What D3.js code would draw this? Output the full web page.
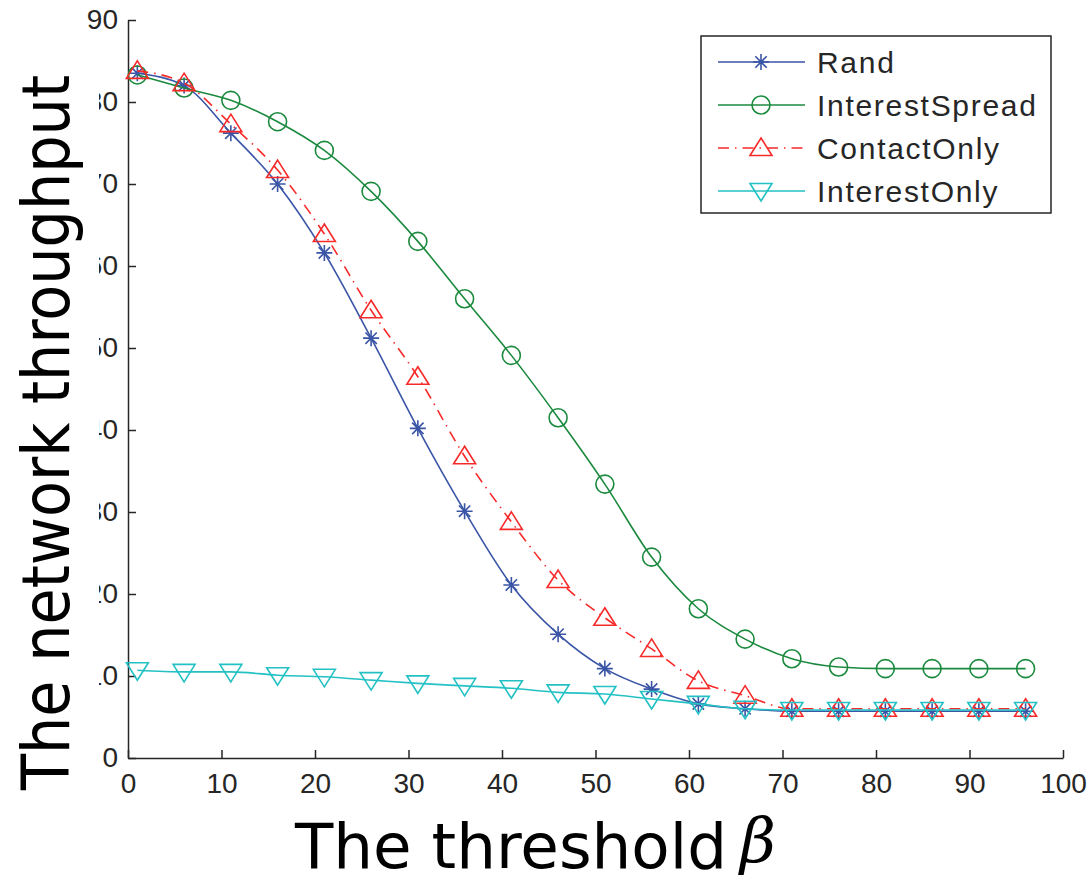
<!DOCTYPE html>
<html lang="en">
<head>
<meta charset="utf-8">
<title>Network throughput vs threshold</title>
<script src="https://d3js.org/d3.v7.min.js"></script>
<style>
  body { margin: 0; background: #fff; }
  .tick text { font-family: "Liberation Sans", Arial, sans-serif; font-size: 28px; fill: #262626; }
  .ttl { font-family: "Comic Sans MS", "DejaVu Sans", sans-serif; fill: #000; }
  .leg { font-family: "Liberation Sans", Arial, sans-serif; font-size: 30px; fill: #262626; letter-spacing: 1.7px; }
</style>
</head>
<body>
<script>
// data
const beta = [1, 6, 11, 16, 21, 26, 31, 36, 41, 46, 51, 56, 61, 66, 71, 76, 81, 86, 91, 96];
const rand = [83.5, 82, 76.2, 70, 61.6, 51.2, 40.2, 30.1, 21.1, 15.1, 10.9, 8.4, 6.6, 6.0, 5.7, 5.7, 5.7, 5.7, 5.7, 5.7];
const interestSpread = [83.3, 81.7, 80.2, 77.6, 74.1, 69.1, 63, 56, 49.1, 41.5, 33.4, 24.5, 18.2, 14.5, 12.1, 11.1, 10.9, 10.9, 10.9, 10.9];
const contactOnly = [83.8, 82.3, 77.3, 71.7, 63.9, 54.6, 46.5, 36.8, 28.8, 21.7, 17.1, 13.3, 9.4, 7.6, 6.0, 6.0, 6.0, 6.0, 6.0, 6.0];
const interestOnly = [10.7, 10.5, 10.5, 10.1, 9.9, 9.5, 9.1, 8.8, 8.5, 8.0, 7.8, 7.2, 6.6, 6.0, 5.85, 5.85, 5.85, 5.85, 5.85, 5.85];
const seriesNames = ["Rand", "InterestSpread", "ContactOnly", "InterestOnly"];
const xTicks = [0, 10, 20, 30, 40, 50, 60, 70, 80, 90, 100];
const yTicks = [0, 10, 20, 30, 40, 50, 60, 70, 80, 90];

const width = 1092, height = 883;
const svg = d3.select("body").append("svg")
  .attr("width", width).attr("height", height);

const x = d3.scaleLinear().domain([0, 100]).range([128, 1063]);
const y = d3.scaleLinear().domain([0, 90]).range([758, 20]);

const series = [
  { name: seriesNames[0], vals: rand, color: "#3a55a6", marker: "star", dash: null },
  { name: seriesNames[1], vals: interestSpread, color: "#1b8a3e", marker: "circle", dash: null },
  { name: seriesNames[2], vals: contactOnly, color: "#f72a2a", marker: "up", dash: "11,6,1.5,6" },
  { name: seriesNames[3], vals: interestOnly, color: "#23c1c4", marker: "down", dash: null }
];

// marker shapes, centred on 0,0
function markerPath(type) {
  if (type === "star") {
    const r = 8, d = 5.7;
    return `M${-r},0L${r},0M0,${-r}L0,${r}M${-d},${-d}L${d},${d}M${-d},${d}L${d},${-d}`;
  }
  if (type === "circle") {
    const r = 9;
    return `M${r},0A${r},${r},0,1,1,${-r},0A${r},${r},0,1,1,${r},0Z`;
  }
  if (type === "up") return "M0,-10L11,7.5L-11,7.5Z";
  return "M0,10L11,-7.5L-11,-7.5Z";
}

// axes
const xAxis = d3.axisBottom(x).tickValues(xTicks).tickSizeInner(-8).tickSizeOuter(0).tickPadding(14);
const yAxis = d3.axisLeft(y).tickValues(yTicks).tickSizeInner(-8).tickSizeOuter(0).tickPadding(10);

const gx = svg.append("g").attr("transform", `translate(0,${y(0)})`).call(xAxis);
const gy = svg.append("g").attr("transform", `translate(${x(0)},0)`).call(yAxis);
[gx, gy].forEach(g => {
  g.select(".domain").attr("stroke", "#262626").attr("stroke-width", 1.5);
  g.selectAll(".tick line").attr("stroke", "#262626").attr("stroke-width", 1.5);
});
gx.selectAll(".tick text").attr("dy", "0.75em");

// lines
const line = d3.line().curve(d3.curveMonotoneX);
series.forEach(s => {
  const pts = beta.map((b, i) => [x(b), y(s.vals[i])]);
  svg.append("path")
    .attr("d", line(pts))
    .attr("fill", "none")
    .attr("stroke", s.color)
    .attr("stroke-width", 1.6)
    .attr("stroke-dasharray", s.dash);
  svg.append("g").selectAll("path")
    .data(pts)
    .join("path")
    .attr("transform", d => `translate(${d[0]},${d[1]})`)
    .attr("d", markerPath(s.marker))
    .attr("fill", "none")
    .attr("stroke", s.color)
    .attr("stroke-width", 1.6);
});

// legend
const leg = svg.append("g");
leg.append("rect")
  .attr("x", 701).attr("y", 36).attr("width", 350).attr("height", 177)
  .attr("fill", "#fff").attr("stroke", "#262626").attr("stroke-width", 1.5);
series.forEach((s, i) => {
  const ly = 62 + i * 43;
  leg.append("line")
    .attr("x1", 718).attr("x2", 805).attr("y1", ly).attr("y2", ly)
    .attr("stroke", s.color).attr("stroke-width", 1.6)
    .attr("stroke-dasharray", s.dash);
  leg.append("path")
    .attr("transform", `translate(761,${ly})`)
    .attr("d", markerPath(s.marker))
    .attr("fill", "none").attr("stroke", s.color).attr("stroke-width", 1.6);
  leg.append("text").attr("class", "leg")
    .attr("x", 817).attr("y", ly).attr("dy", "0.36em")
    .text(s.name);
});

// axis titles (the y title sits on a white block that hides part of the tick labels)
svg.append("rect").attr("x", 0).attr("y", 62).attr("width", 99).attr("height", 740).attr("fill", "#fff");
svg.append("text").attr("class", "ttl")
  .attr("transform", "translate(69,790) rotate(-90)")
  .attr("font-size", 65)
  .attr("font-stretch", "condensed")
  .attr("textLength", 715).attr("lengthAdjust", "spacingAndGlyphs")
  .text("The network throughput");

svg.append("text").attr("class", "ttl")
  .attr("x", 295).attr("y", 868)
  .attr("font-size", 62)
  .attr("textLength", 432).attr("lengthAdjust", "spacingAndGlyphs")
  .text("The threshold");
svg.append("text")
  .attr("x", 740).attr("y", 862)
  .attr("font-family", "'DejaVu Serif', 'Liberation Serif', serif")
  .attr("font-style", "italic")
  .attr("font-size", 62)
  .text("β");
</script>
</body>
</html>
